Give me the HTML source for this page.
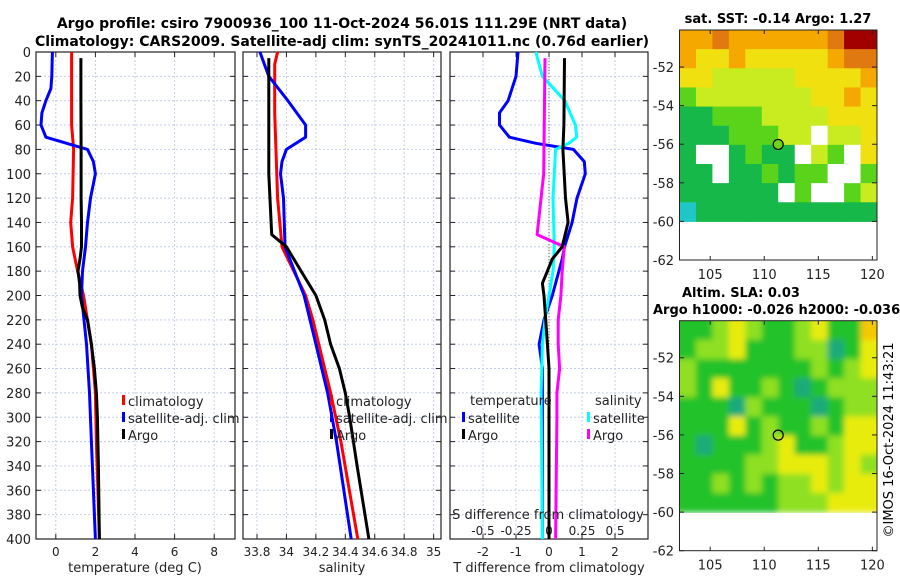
<!DOCTYPE html>
<html><head><meta charset="utf-8">
<style>
html,body{margin:0;padding:0;background:#fff;}
svg{display:block;font-family:"DejaVu Sans","Liberation Sans",sans-serif;}
</style></head>
<body>
<svg id="chart" width="900" height="580" viewBox="0 0 900 580" xmlns="http://www.w3.org/2000/svg">
<defs>
<filter id="blur" x="0" y="0" width="1" height="1"><feGaussianBlur stdDeviation="3"/></filter>
<clipPath id="clip1"><rect x="679.5" y="30" width="197.5" height="192.5"/></clipPath>
<clipPath id="clip2"><rect x="679.5" y="320.7" width="197.5" height="192.5"/></clipPath>
</defs>
<text x="342" y="28" text-anchor="middle" font-size="14" font-weight="bold">Argo profile: csiro 7900936_100 11-Oct-2024 56.01S 111.29E (NRT data)</text>
<text x="342" y="46" text-anchor="middle" font-size="14" font-weight="bold">Climatology: CARS2009. Satellite-adj clim: synTS_20241011.nc (0.76d earlier)</text>
<text x="778" y="23" text-anchor="middle" font-size="13" font-weight="bold">sat. SST: -0.14 Argo: 1.27</text>
<text x="682" y="297" font-size="13" font-weight="bold">Altim. SLA: 0.03</text>
<text x="653" y="314" font-size="13" font-weight="bold">Argo h1000: -0.026 h2000: -0.036</text>
<text transform="translate(893,440) rotate(-90)" text-anchor="middle" font-size="13">©IMOS 16-Oct-2024 11:43:21</text>
<g id="g"></g>
</svg>
<script>
// ---- data ----
const depthTicks=[0,20,40,60,80,100,120,140,160,180,200,220,240,260,280,300,320,340,360,380,400];
const tTicks=[0,2,4,6,8];
const sTicks=[33.8,34,34.2,34.4,34.6,34.8,35];
const dtTicks=[-2,-1,0,1,2];
const dsTicks=[-0.5,-0.25,0,0.25,0.5];
const dsTickLabels=["-0.5","-0.25","0","0.25","0.5"];

const argoTDepth=[5,40,80,120,140,150,160,170,180,190,200,210,220,240,260,280,300,340,400];
const argoT=[1.27,1.27,1.28,1.28,1.3,1.3,1.3,1.22,1.12,1.2,1.22,1.35,1.6,1.8,1.95,2.05,2.1,2.15,2.2];
const climTDepth=[0,60,80,120,140,160,180,200,240,280,320,400];
const climT=[0.8,0.8,0.9,0.85,0.75,0.85,1.1,1.4,1.8,2.0,2.05,2.2];
const satTDepth=[0,20,30,40,50,60,70,80,90,100,120,140,160,180,200,240,280,320,400];
const satT=[-0.17,-0.2,-0.25,-0.5,-0.7,-0.75,-0.5,1.6,1.9,2.0,1.75,1.6,1.5,1.35,1.3,1.55,1.7,1.8,2.0];

const argoSDepth=[5,100,150,155,160,170,180,200,220,240,260,280,300,340,400];
const argoS=[33.88,33.88,33.9,33.95,34.0,34.05,34.1,34.2,34.26,34.3,34.36,34.4,34.43,34.48,34.56];
const climSDepth=[0,10,50,120,160,180,200,220,240,280,320,400];
const climS=[33.94,33.92,33.92,33.94,33.97,34.05,34.13,34.18,34.22,34.3,34.37,34.485];
const satSDepth=[0,20,40,60,70,80,90,100,120,160,200,240,280,320,400];
const satS=[33.82,33.88,34.01,34.13,34.13,34.0,33.97,33.96,33.98,33.99,34.12,34.2,34.28,34.34,34.44];

const dSatTDepth=[0,20,40,50,60,70,75,80,90,100,120,140,160,170,180,200,220,240,260,280,400];
const dSatT=[-0.94,-1.0,-1.24,-1.5,-1.5,-1.2,-0.4,0.74,1.07,1.1,0.85,0.7,0.47,0.4,0.3,0.1,-0.15,-0.3,-0.2,-0.2,-0.2];
const dArgoTDepth=[5,60,80,120,140,160,170,180,190,200,220,240,260,280,400];
const dArgoT=[0.47,0.45,0.42,0.5,0.58,0.4,0.1,-0.05,-0.2,-0.15,-0.1,-0.05,0.0,0.0,0.0];
const dSatSDepth=[0,20,40,60,70,75,80,100,120,160,180,200,220,240,280,400];
const dSatS=[-0.1,-0.05,0.12,0.2,0.21,0.15,0.05,0.04,0.03,0.04,0.03,0.0,-0.03,-0.05,-0.06,-0.05];
const dArgoSDepth=[5,100,150,160,180,200,220,240,260,280,300,400];
const dArgoS=[-0.03,-0.04,-0.09,0.116,0.1,0.09,0.07,0.07,0.08,0.06,0.06,0.05];

const sstGrid=[
[5,5,6,5,5,5,5,5,5,6,7,7],
[5,4,4,5,4,4,4,4,4,5,6,6],
[4,4,3,3,3,3,3,4,4,4,4,5],
[2,3,3,3,3,3,3,3,4,4,5,4],
[1,1,2,2,2,3,3,3,3,4,4,4],
[1,1,1,2,2,2,3,3,-1,3,3,4],
[1,-1,-1,1,2,1,1,-1,3,2,-1,4],
[1,1,-1,1,1,2,1,2,2,-1,-1,2],
[1,1,1,1,1,1,-1,2,-1,-1,2,3],
[0,1,1,1,1,1,1,1,1,1,1,1]];
const slaGrid=[
[1,1,2,3,2,1,1,2,3,1,1,4],
[1,2,2,3,1,1,1,2,2,0,1,3],
[2,1,1,1,1,1,1,1,2,1,2,3],
[2,1,3,1,1,2,1,0,1,2,2,2],
[1,1,1,0,2,1,1,1,0,1,2,2],
[1,1,1,3,1,2,1,1,2,1,3,3],
[1,0,1,1,1,2,3,1,1,2,3,3],
[1,1,1,1,2,2,3,3,3,2,3,2],
[1,1,2,1,2,1,2,2,3,2,3,3],
[1,1,1,1,1,1,2,2,2,3,3,3]];
const sstPalette=["#1fc6c6","#16b84a","#5ad41a","#c8ec20","#f0e010","#f5a800","#e07a10","#a00000"];
const slaPalette=["#1aaa7a","#22c22a","#8fe020","#e8ec10","#f5c800"];
const latTicks=[-52,-54,-56,-58,-60,-62];
const lonTicks=[105,110,115,120];
const floatLon=111.29, floatLat=-56.01;

// ---- drawing ----
const NS="http://www.w3.org/2000/svg";
const G=document.getElementById('g');
function mk(tag,attrs,parent){const e=document.createElementNS(NS,tag);for(const k in attrs)e.setAttribute(k,attrs[k]);(parent||G).appendChild(e);return e;}
const Y0=52,Y1=539;
const yS=d=>Y0+(d/400)*(Y1-Y0);
function linear(d0,d1,r0,r1){return v=>r0+(v-d0)/(d1-d0)*(r1-r0);}

const panels=[
 {x0:36,x1:235,xs:linear(-1,9.05,36,235),ticks:tTicks,labels:tTicks.map(String),name:'temperature'},
 {x0:243,x1:441,xs:linear(33.705,35.05,243,441),ticks:sTicks,labels:sTicks.map(String),name:'salinity'},
 {x0:450,x1:648,xs:linear(-3,3,450,648),ticks:dtTicks,labels:dtTicks.map(String),name:'difference'}
];
panels.forEach((p,i)=>{
  const grp=mk('g',{});
  
  
  p.ticks.forEach((t,j)=>{
    const x=p.xs(t);
    const gl=mk('line',{x1:x,x2:x,y1:Y0,y2:Y1,stroke:'#c4cde8','stroke-width':1,'stroke-dasharray':'2,2'},grp);
    
    
    mk('line',{x1:x,x2:x,y1:Y1,y2:Y1-5,stroke:'#222'},grp);
    mk('line',{x1:x,x2:x,y1:Y0,y2:Y0+5,stroke:'#222'},grp);
    const tl=mk('text',{x:x,y:556,'text-anchor':'middle','font-size':12,fill:'#222'},grp);
    tl.textContent=p.labels[j];
    
    
  });
  depthTicks.forEach(d=>{
    const y=yS(d);
    mk('line',{x1:p.x0,x2:p.x1,y1:y,y2:y,stroke:'#c4cde8','stroke-width':1,'stroke-dasharray':'2,2'},grp);
    mk('line',{x1:p.x0,x2:p.x0+5,y1:y,y2:y,stroke:'#222'},grp);
    mk('line',{x1:p.x1,x2:p.x1-5,y1:y,y2:y,stroke:'#222'},grp);
    if(i===0){
      const tl=mk('text',{x:31,y:y+5,'text-anchor':'end','font-size':13,fill:'#222'},grp);
      tl.textContent=String(d);
      
      
    }
  });
  const fr=mk('rect',{x:p.x0,y:Y0,width:p.x1-p.x0,height:Y1-Y0,fill:'none',stroke:'#222','stroke-width':1.2},grp);
  
  
});
const dsX=linear(-0.75,0.75,450,648);
dsTicks.forEach((t,j)=>{
  const tl=mk('text',{x:dsX(t),y:535,'text-anchor':'middle','font-size':12,fill:'#222'});
  tl.textContent=dsTickLabels[j];
  
  
});
const zl=mk('line',{x1:panels[2].xs(0),x2:panels[2].xs(0),y1:yS(5),y2:Y1,stroke:'#554','stroke-width':1,'stroke-dasharray':'1,2'});



function series(xs,vals,depths,color,name,w){
  const pts=vals.map((v,i)=>xs(v).toFixed(1)+','+yS(depths[i]).toFixed(1)).join(' ');
  const pl=mk('polyline',{points:pts,fill:'none',stroke:color,'stroke-width':w||3,'stroke-linejoin':'round'});
  
  
}
series(panels[0].xs,climT,climTDepth,'#f00','climatology-temperature-line');
series(panels[0].xs,satT,satTDepth,'#00f','satellite-temperature-line');
series(panels[0].xs,argoT,argoTDepth,'#000','argo-temperature-line');
series(panels[1].xs,climS,climSDepth,'#f00','climatology-salinity-line');
series(panels[1].xs,satS,satSDepth,'#00f','satellite-salinity-line');
series(panels[1].xs,argoS,argoSDepth,'#000','argo-salinity-line');
series(panels[2].xs,dSatT,dSatTDepth,'#00f','satellite-t-diff-line');
series(dsX,dSatS,dSatSDepth,'#0ff','satellite-s-diff-line');
series(dsX,dArgoS,dArgoSDepth,'#f0f','argo-s-diff-line');
series(panels[2].xs,dArgoT,dArgoTDepth,'#000','argo-t-diff-line');

function txt(x,y,s,name,opts){const t=mk('text',Object.assign({x:x,y:y,'font-size':13,fill:'#222'},opts||{}));t.textContent=s;return t;}
function legend(x,y,color,label){
  const r=mk('rect',{x:x,y:y-11,width:3,height:10,fill:color});
  
  
  txt(x+6,y,label,'legend-entry');
}
legend(122,406,'#f00','climatology');legend(122,423,'#00f','satellite-adj. clim');legend(122,440,'#000','Argo');
legend(330,406,'#f00','climatology');legend(330,423,'#00f','satellite-adj. clim');legend(330,440,'#000','Argo');
txt(470,405,'temperature','legend-title-temperature');
legend(462,423,'#00f','satellite');legend(462,440,'#000','Argo');
txt(595,405,'salinity','legend-title-salinity');
legend(587,423,'#0ff','satellite');legend(587,440,'#f0f','Argo');
txt(548,519,'S difference from climatology','s-diff-axis-title',{'text-anchor':'middle'});
txt(135,572,'temperature (deg C)','x-axis-title-temperature',{'text-anchor':'middle'});
txt(342,572,'salinity','x-axis-title-salinity',{'text-anchor':'middle'});
txt(549,572,'T difference from climatology','x-axis-title-t-diff',{'text-anchor':'middle'});

function drawMap(top,bottom,grid,palette,name,filled,clip,blur){
  const lonS=linear(102.16,120.43,679.5,877);
  const latS=linear(-52,-62,top+(bottom-top)*( (-52+50.08)/(-62+50.08) ),bottom);
  const grp=mk('g',{});
  
  
  const cg=mk('g',{'clip-path':'url(#'+clip+')'},grp);
  const cells=mk('g',blur?{filter:'url(#blur)'}:{},cg);
  const rows=grid.length,cols=grid[0].length;
  const latTop=-50.08,latBot=-60,lonL=102.16,lonR=120.43;
  for(let r=0;r<rows;r++)for(let c=0;c<cols;c++){
    const v=grid[r][c];
    const x=lonS(lonL+(lonR-lonL)*c/cols),x2=lonS(lonL+(lonR-lonL)*(c+1)/cols);
    const y=latS(latTop+(latBot-latTop)*r/rows),y2=latS(latTop+(latBot-latTop)*(r+1)/rows);
    let ex=0,ey=0;
    if(blur){ if(c===0){ex=10;} if(r===0){ey=10;} }
    const cell=mk('rect',{x:x-(c===0&&blur?10:0),y:y-(r===0&&blur?10:0),width:x2-x+0.5+ex+(c===cols-1&&blur?10:0),height:y2-y+0.5+ey,fill:v<0?'#fff':palette[v]},cells);
    
    
  }
  latTicks.forEach(l=>{const y=latS(l);mk('line',{x1:679.5,x2:684,y1:y,y2:y,stroke:'#222'},grp);mk('line',{x1:877,x2:872,y1:y,y2:y,stroke:'#222'},grp);
    txt(674,y+5,String(l),'lat-tick-label',{'text-anchor':'end'});});
  lonTicks.forEach(l=>{const x=lonS(l);mk('line',{x1:x,x2:x,y1:bottom,y2:bottom-4,stroke:'#222'},grp);mk('line',{x1:x,x2:x,y1:top,y2:top+4,stroke:'#222'},grp);
    txt(x,bottom+19,String(l),'lon-tick-label',{'text-anchor':'middle'});});
  mk('rect',{x:679.5,y:top,width:877-679.5,height:bottom-top,fill:'none',stroke:'#222','stroke-width':1},grp);
  const c=mk('circle',{cx:lonS(floatLon),cy:latS(floatLat),r:5,fill:filled,stroke:'#000','stroke-width':1.2},grp);
  
  
}
drawMap(30,260,sstGrid,sstPalette,'sst-map','#6cd41a','clip1',false);
drawMap(320.7,550.7,slaGrid,slaPalette,'sla-map','none','clip2',true);
</script>
</body></html>
